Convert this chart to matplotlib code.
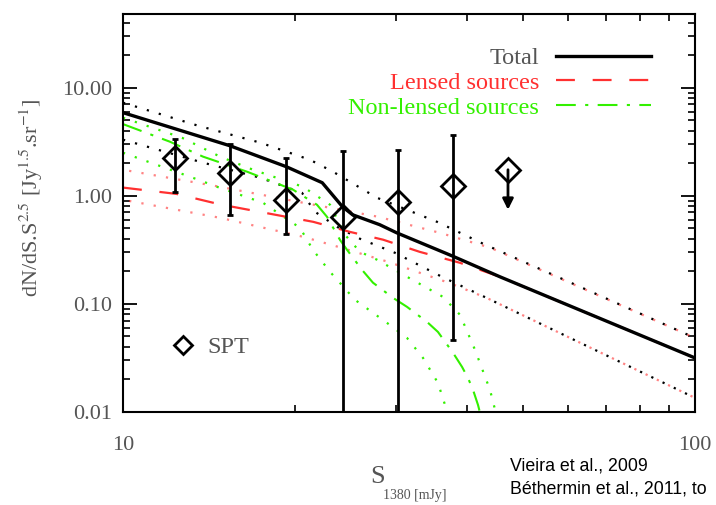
import matplotlib
matplotlib.use('Agg')
import matplotlib.pyplot as plt
from matplotlib.lines import Line2D
import numpy as np

# ---- data ----
# model curves, S in mJy, dN/dS.S^2.5 in Jy^1.5/sr
total_s = [10, 15.38, 19.28, 22.3, 24.2, 25.2, 28.1, 30.1, 37.6, 45.6, 100]
total_y = [5.87, 2.90, 1.86, 1.32, 0.79, 0.667, 0.54, 0.454, 0.278, 0.178, 0.0316]
total_hi_s = [10, 13.52, 17.37, 21.23, 23.28, 27.8, 35.4, 42.6, 100]
total_hi_y = [7.26, 4.45, 3.10, 2.15, 1.67, 0.958, 0.574, 0.36, 0.0484]
total_lo_s = [10, 13.63, 17.37, 20.55, 21.66, 23.67, 25.96, 29.87, 36.1, 43.2, 100]
total_lo_y = [3.30, 2.06, 1.468, 1.066, 0.711, 0.516, 0.40, 0.297, 0.178, 0.1137, 0.0135]

lensed_s = [10, 12.4, 14.8, 21.5, 24.9, 28.5, 33.0, 38.8, 45.6, 100]
lensed_y = [1.19, 1.04, 0.83, 0.574, 0.464, 0.392, 0.303, 0.24, 0.178, 0.0316]
lensed_hi_s = [10, 14.78, 20.66, 27.9, 35.8, 43.9, 100]
lensed_hi_y = [1.74, 1.21, 0.861, 0.64, 0.454, 0.33, 0.0484]
lensed_lo_s = [10, 14.78, 20.66, 23.77, 29.06, 37.2, 43.2, 100]
lensed_lo_y = [0.918, 0.625, 0.417, 0.337, 0.245, 0.156, 0.1137, 0.0135]

nonlens_s = [10, 12.08, 13.80, 16.47, 19.83, 21.83, 22.73, 23.95, 24.64, 26.17, 27.35,
             29.65, 31.37, 34.01, 35.53, 37.76, 39.15, 40.10, 40.92, 41.75, 42.5]
nonlens_y = [4.6, 3.16, 2.30, 1.67, 1.137, 0.826, 0.639, 0.391, 0.316, 0.2065, 0.157,
             0.1137, 0.0938, 0.068, 0.055, 0.0352, 0.0261, 0.0206, 0.016, 0.0116, 0.008]
nonlens_hi_s = [10, 12.68, 14.78, 16.88, 20.64, 23.01, 24.44, 25.96, 27.80, 31.37, 36.26,
                38.84, 41.25, 43.81, 45.3]
nonlens_hi_y = [5.27, 3.44, 2.30, 1.74, 1.21, 0.826, 0.435, 0.303, 0.256, 0.178, 0.116,
                0.0791, 0.0375, 0.016, 0.008]
nonlens_lo_s = [10, 13.52, 14.60, 17.57, 20.39, 21.48, 23.01, 25.44, 28.94, 31.37, 33.46,
                35.53, 36.56, 37.2]
nonlens_lo_y = [2.50, 1.41, 1.21, 0.861, 0.505, 0.316, 0.198, 0.109, 0.0667, 0.0484, 0.0316,
                0.01856, 0.0116, 0.008]

# SPT counts (Vieira et al. 2009)
spt_s = [12.33, 15.38, 19.28, 24.25, 30.26, 37.76]
spt_y = [2.25, 1.63, 0.918, 0.64, 0.88, 1.24]
spt_hi = [3.37, 3.03, 2.25, 2.61, 2.67, 3.67]
spt_lo = [1.09, 0.667, 0.444, 0.001, 0.001, 0.0464]
# upper limit
ul_s = [47.1]
ul_y = [1.74]
ul_end = [0.742]

red = '#ff3030'
green = '#33f000'
grey = '#555555'

plt.rcParams['font.family'] = 'Liberation Serif'
plt.rcParams['mathtext.fontset'] = 'stix'

fig = plt.figure(figsize=(7.16, 5.05), dpi=100)
ax = fig.add_axes([0.1718, 0.1842, 0.7989, 0.7881])

dots = (0, (1.0, 4.6))
# confidence bands (dotted)
ax.plot(total_hi_s, total_hi_y, color='k', lw=1.6, ls=dots)
ax.plot(total_lo_s, total_lo_y, color='k', lw=1.6, ls=dots)
ax.plot(lensed_hi_s, lensed_hi_y, color=red, lw=1.6, ls=(2.8, (1.0, 4.6)), alpha=0.6)
ax.plot(lensed_lo_s, lensed_lo_y, color=red, lw=1.6, ls=(2.8, (1.0, 4.6)), alpha=0.6)
ax.plot(nonlens_hi_s, nonlens_hi_y, color=green, lw=1.6, ls=dots)
ax.plot(nonlens_lo_s, nonlens_lo_y, color=green, lw=1.6, ls=dots)

# model lines
ax.plot(lensed_s, lensed_y, color=red, lw=1.6, ls=(0, (8.5, 8)), label='Lensed sources')
ax.plot(nonlens_s, nonlens_y, color=green, lw=1.5, ls=(0, (9.5, 4.5, 1.5, 4.5)),
        label='Non-lensed sources')
ax.plot(total_s, total_y, color='k', lw=2.4, label='Total')

# SPT points
yerr = [np.array(spt_y) - np.array(spt_lo), np.array(spt_hi) - np.array(spt_y)]
ax.errorbar(spt_s, spt_y, yerr=yerr, fmt='D', ms=12, mfc='none', mec='k', mew=2,
            ecolor='k', elinewidth=2, capsize=2.5, capthick=2)
ax.plot(ul_s, ul_y, 'D', ms=12, mfc='none', mec='k', mew=2)
for s, y0, y1 in zip(ul_s, ul_y, ul_end):
    ax.annotate('', xy=(s, y1), xytext=(s, y0),
                arrowprops=dict(arrowstyle='-|>', lw=2, color='k', mutation_scale=16,
                                shrinkA=0, shrinkB=0))

ax.set_xscale('log')
ax.set_yscale('log')
ax.set_xlim(10, 100)
ax.set_ylim(0.01, 48)

ax.set_xticks([10, 100], labels=['10', '100'])
ax.set_xticks([20, 30, 40, 50, 60, 70, 80, 90], minor=True, labels=[])
ax.set_yticks([0.01, 0.1, 1, 10], labels=['0.01', '0.10', '1.00', '10.00'])
ax.tick_params(which='both', direction='in', top=True, right=True, colors='k',
               labelcolor=grey, labelsize=16)
ax.tick_params(which='major', length=10, width=1.3)
ax.tick_params(which='minor', length=5, width=1.2)
ax.tick_params(axis='x', which='major', pad=17)
ax.tick_params(axis='y', which='major', pad=8)
for sp in ax.spines.values():
    sp.set_linewidth(1.5)

ax.set_ylabel(r'dN/dS.S$^{2.5}$ [Jy$^{1.5}$.sr$^{-1}$]', fontsize=16, color=grey)
ax.yaxis.set_label_coords(-0.137, 0.538)

fig.text(370 / 716, 1 - 477 / 505, 'S', fontsize=19, color=grey, ha='left', va='center')
fig.text(383 / 716, 1 - 495 / 505, '1380 [mJy]', fontsize=10, color=grey, ha='left',
         va='center')

# legends
handles, labels = ax.get_legend_handles_labels()
order = [2, 0, 1]
leg = ax.legend([handles[i] for i in order], [labels[i] for i in order], loc='upper right',
                bbox_to_anchor=(0.961, 0.972), markerfirst=False, frameon=False,
                fontsize=17.5, handlelength=3.9, handletextpad=0.7, labelspacing=0.12)
for t, c in zip(leg.get_texts(), [grey, red, green]):
    t.set_color(c)
ax.add_artist(leg)

spt_handle = Line2D([], [], ls='none', marker='D', ms=9, mfc='none', mec='k', mew=2)
ax.legend([spt_handle], ['SPT'], loc='lower left', bbox_to_anchor=(0.045, 0.08),
          frameon=False, fontsize=17.5, handlelength=1.0, handletextpad=0.5,
          labelcolor=grey)

fig.text(510 / 716, 1 - 466 / 505, 'Vieira et al., 2009', fontsize=12.8,
         family='Liberation Sans', va='center', ha='left')
fig.text(510 / 716, 1 - 489 / 505, 'Béthermin et al., 2011, to', fontsize=12.8,
         family='Liberation Sans', va='center', ha='left')

fig.savefig('out.png', dpi=100)
